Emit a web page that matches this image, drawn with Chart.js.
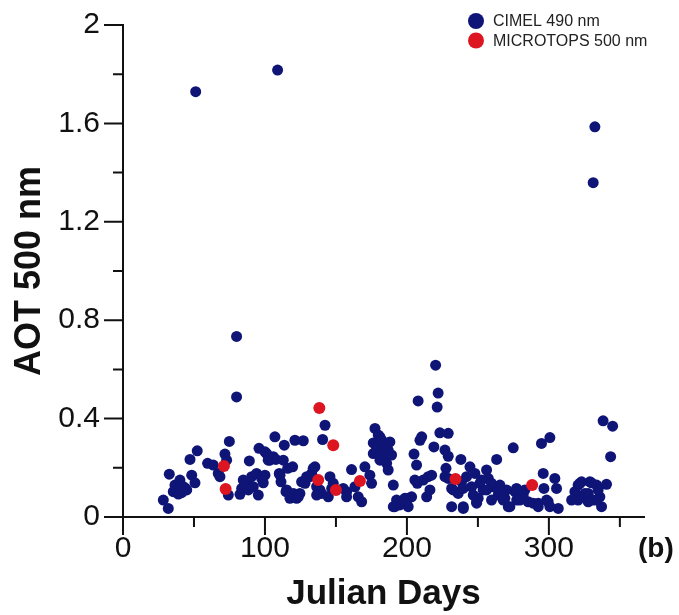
<!DOCTYPE html>
<html>
<head>
<meta charset="utf-8">
<script src="https://cdn.jsdelivr.net/npm/chart.js@4.4.1/dist/chart.umd.min.js"></script>
<style>
  html, body { margin: 0; padding: 0; background: #fff; }
</style>
</head>
<body>
<canvas id="aot" width="679" height="615"></canvas>
<script>
// CIMEL 490 nm
const cimelDays = [
  28.4, 31.9, 32.6, 36.6, 35.4, 40.1, 41.3, 43.7, 47.2, 48.4, 50.7, 52.3, 59.6, 63.6, 67.1, 68.3,
  71.8, 73.0, 74.2, 74.9, 80.0, 80.0, 82.4, 87.1, 89.0, 90.6, 91.8, 94.1, 95.3, 95.8, 97.7, 98.8,
  100.0, 101.2, 103.5, 105.9, 107.0, 107.7, 110.1, 111.3, 112.9, 113.6, 114.8, 116.0, 117.6, 119.5,
  121.1, 122.3, 124.6, 125.8, 127.0, 129.4, 132.9, 135.2, 136.4, 139.9, 140.6, 142.3, 145.8, 147.0,
  157.5, 161.0, 163.4, 168.1, 170.4, 173.9, 175.1, 177.5, 176.3, 176.3, 181.0, 182.2, 183.3, 185.7,
  188.0, 189.2, 186.8, 190.4, 191.5, 193.9, 197.4, 200.9, 203.3, 195.0, 205.0, 206.8, 207.9, 209.2,
  210.4, 207.3, 211.5, 213.9, 215.0, 217.4, 216.2, 219.0, 220.2, 222.0, 221.3, 223.2, 229.1, 226.8,
  229.1, 227.5, 229.1, 231.5, 232.6, 238.0, 238.5, 236.1, 239.7, 242.0, 244.4, 245.6, 246.7, 247.9,
  249.1, 251.4, 253.7, 256.1, 257.3, 260.8, 263.2, 264.3, 269.0, 271.4, 274.9, 276.1, 277.3, 280.8,
  283.1, 285.4, 292.5, 294.8, 296.0, 296.5, 300.7, 299.5, 304.2, 305.4, 306.6, 316.0, 318.3, 320.6,
  323.0, 324.2, 327.7, 328.9, 331.2, 333.6, 337.1, 335.9, 340.6, 338.2, 344.9, 343.5,
  51.2, 108.9, 332.4, 331.2,
  100.0, 102.3, 84.7, 83.6, 88.3, 110.6, 115.3, 120.0, 123.5, 128.2, 42.5, 39.0, 44.9,
  134.0, 131.7, 148.1, 138.7, 136.4, 144.6, 155.1, 157.5, 165.7, 179.8, 182.2, 178.6, 186.8, 181.0,
  192.7, 190.4, 226.8, 252.5, 259.6, 205.6, 231.5, 239.6, 250.2, 256.1, 259.6, 264.3, 239.7, 249.1,
  198.6, 200.9, 265.5, 270.2, 277.2, 281.9, 267.8, 272.5, 279.6, 288.9, 292.5, 298.4, 300.7, 321.8,
  334.7, 330.0, 325.4, 327.7, 333.6, 320.6
];
const cimelAot = [
  0.069, 0.035, 0.174, 0.130, 0.103, 0.150, 0.099, 0.118, 0.234, 0.170, 0.139, 0.269, 0.218, 0.211, 0.177, 0.164,
  0.256, 0.231, 0.089, 0.307, 0.734, 0.488, 0.092, 0.143, 0.228, 0.164, 0.123, 0.177, 0.089, 0.279, 0.157, 0.139,
  0.170, 0.258, 0.231, 0.245, 0.326, 0.234, 0.177, 0.143, 0.231, 0.292, 0.103, 0.198, 0.076, 0.204,
  0.312, 0.076, 0.096, 0.143, 0.310, 0.164, 0.177, 0.204, 0.123, 0.096, 0.315, 0.373, 0.164, 0.116,
  0.103, 0.193, 0.123, 0.062, 0.204, 0.170, 0.137, 0.360, 0.301, 0.258, 0.326, 0.279, 0.245, 0.218,
  0.305, 0.252, 0.191, 0.130, 0.042, 0.062, 0.069, 0.076, 0.082, 0.049, 0.256, 0.211, 0.472, 0.312,
  0.326, 0.137, 0.150, 0.082, 0.164, 0.170, 0.110, 0.285, 0.617, 0.504, 0.447, 0.342, 0.340, 0.272,
  0.247, 0.198, 0.157, 0.042, 0.110, 0.234, 0.143, 0.096, 0.042, 0.164, 0.204, 0.123, 0.089, 0.177,
  0.062, 0.137, 0.110, 0.191, 0.157, 0.123, 0.234, 0.089, 0.076, 0.042, 0.281, 0.103, 0.069, 0.082,
  0.110, 0.062, 0.056, 0.299, 0.177, 0.116, 0.323, 0.062, 0.157, 0.116, 0.035, 0.069, 0.103, 0.130,
  0.143, 0.082, 0.096, 0.143, 0.069, 0.130, 0.042, 0.082, 0.133, 0.391, 0.369, 0.245,
  1.729, 1.817, 1.586, 1.359,
  0.265, 0.231, 0.150, 0.116, 0.110, 0.170, 0.110, 0.096, 0.082, 0.137, 0.123, 0.093, 0.110,
  0.198, 0.164, 0.137, 0.110, 0.089, 0.082, 0.116, 0.082, 0.082, 0.333, 0.312, 0.272, 0.272, 0.231,
  0.069, 0.042, 0.164, 0.150, 0.137, 0.150, 0.116, 0.116, 0.076, 0.110, 0.069, 0.110, 0.035, 0.056,
  0.076, 0.042, 0.130, 0.110, 0.116, 0.089, 0.069, 0.042, 0.069, 0.056, 0.042, 0.069, 0.042, 0.137,
  0.110, 0.139, 0.096, 0.062, 0.069, 0.069
];

// MICROTOPS 500 nm
const microtopsDays = [71.1, 72.3, 137.5, 138.3, 148.1, 150.0, 166.9, 234.2, 288.2];
const microtopsAot = [0.207, 0.114, 0.150, 0.443, 0.292, 0.110, 0.146, 0.154, 0.130];

const xTickLabels = ['0', '100', '200', '300'];
const yTickLabels = ['0', '0.4', '0.8', '1.2', '1.6', '2'];

const navy = '#0f1477';
const red = '#dc1520';
const ink = '#111111';
const fontFamily = '"Liberation Sans", Arial, sans-serif';

function toPoints(xs, ys) {
  return xs.map((x, i) => ({ x: x, y: ys[i] }));
}

// ticks of two lengths, the floating legend and the panel letter
const figureMarks = {
  id: 'figureMarks',
  afterDraw(chart) {
    const { ctx, chartArea } = chart;
    const xs = chart.scales.x;
    const ys = chart.scales.y;
    ctx.save();
    ctx.strokeStyle = ink;
    ctx.lineWidth = 2;
    ctx.beginPath();
    xs.ticks.forEach(t => {
      const px = xs.getPixelForValue(t.value);
      const len = t.label ? 18 : 10;
      ctx.moveTo(px, chartArea.bottom);
      ctx.lineTo(px, chartArea.bottom + len);
    });
    ys.ticks.forEach(t => {
      const py = ys.getPixelForValue(t.value);
      const len = t.label ? 19 : 10;
      ctx.moveTo(chartArea.left, py);
      ctx.lineTo(chartArea.left - len, py);
    });
    ctx.stroke();

    // legend
    ctx.font = '16px ' + fontFamily;
    ctx.textBaseline = 'middle';
    ctx.textAlign = 'left';
    chart.data.datasets.forEach((ds, i) => {
      const cy = 21 + i * 19.5;
      ctx.fillStyle = ds.backgroundColor;
      ctx.beginPath();
      ctx.arc(476, cy, 8, 0, Math.PI * 2);
      ctx.fill();
      ctx.fillStyle = '#222';
      ctx.fillText(ds.label, 493, cy + 1);
    });

    ctx.font = 'bold 28px ' + fontFamily;
    ctx.fillStyle = ink;
    ctx.fillText('(b)', 638, 549);
    ctx.restore();
  }
};

new Chart(document.getElementById('aot'), {
  type: 'scatter',
  data: {
    datasets: [
      {
        label: 'CIMEL 490 nm',
        data: toPoints(cimelDays, cimelAot),
        backgroundColor: navy,
        borderWidth: 0,
        pointRadius: 5.5,
        order: 2
      },
      {
        label: 'MICROTOPS 500 nm',
        data: toPoints(microtopsDays, microtopsAot),
        backgroundColor: red,
        borderWidth: 0,
        pointRadius: 6,
        order: 1
      }
    ]
  },
  options: {
    responsive: false,
    animation: false,
    devicePixelRatio: 1,
    layout: { padding: { top: 25, right: 35, left: 0, bottom: 0 } },
    plugins: {
      legend: { display: false },
      tooltip: { enabled: false }
    },
    scales: {
      x: {
        type: 'linear',
        position: 'bottom',
        min: 0,
        max: 367,
        border: { display: true, color: ink, width: 2 },
        grid: { drawOnChartArea: false, drawTicks: false },
        ticks: {
          stepSize: 50,
          includeBounds: false,
          autoSkip: false,
          maxRotation: 0,
          padding: 14,
          color: ink,
          font: { family: fontFamily, size: 30 },
          callback: v => xTickLabels.find(l => +l === v) || ''
        },
        title: {
          display: true,
          text: 'Julian Days',
          color: ink,
          font: { family: fontFamily, size: 35, weight: 'bold' },
          padding: { top: 0, bottom: 0 }
        },
        afterFit: s => { s.height = 98; s.paddingLeft = 0; s.paddingRight = 0; }
      },
      y: {
        type: 'linear',
        min: 0,
        max: 2,
        border: { display: true, color: ink, width: 2 },
        grid: { drawOnChartArea: false, drawTicks: false },
        ticks: {
          stepSize: 0.2,
          autoSkip: false,
          padding: 23,
          color: ink,
          font: { family: fontFamily, size: 30 },
          callback: v => yTickLabels.find(l => Math.abs(+l - v) < 1e-6) || ''
        },
        title: {
          display: true,
          text: 'AOT 500 nm',
          color: ink,
          font: { family: fontFamily, size: 36, weight: 'bold' },
          padding: { top: 8, bottom: 0 }
        },
        afterFit: s => { s.width = 123; s.paddingTop = 0; s.paddingBottom = 0; }
      }
    }
  },
  plugins: [figureMarks]
});
</script>
</body>
</html>
